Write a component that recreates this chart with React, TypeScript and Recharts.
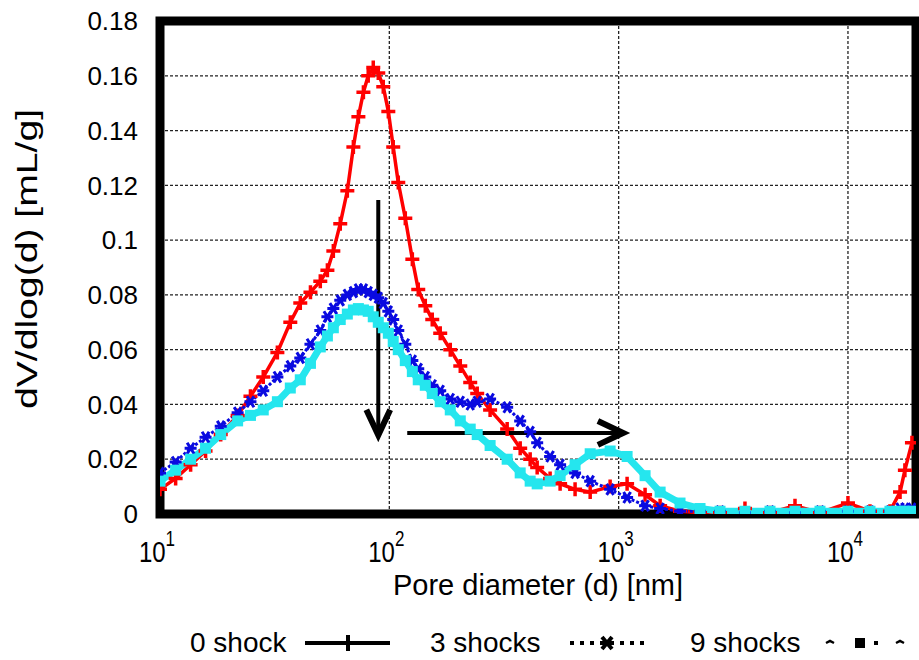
import {
  LineChart,
  Line,
  XAxis,
  YAxis,
  CartesianGrid,
  ReferenceArea,
  ReferenceLine,
  Legend,
} from "recharts";

// pore diameters in nm, shared by all three curves
const diameters = [
  10, 11.7, 13.6, 15.8, 18.4, 21.8, 24.8, 28.2, 32.5, 37.0, 40.9, 45.3, 50.0,
  53.7, 57.0, 61.1, 65.6, 69.7, 73.3, 77.1, 80.9, 85.1, 89.5, 94.1, 99.0, 104,
  109.4, 117.4, 126, 133.7, 143.5, 153.9, 166.7, 184.4, 203.9, 225.3, 241.7,
  275.1, 326.5, 372.1, 411.3, 441.3, 502.5, 555.6, 645.7, 751.4, 918, 1088.6,
  1303.9, 1516.5, 1852, 2264, 2767, 3555, 4571, 5875, 7551, 10000, 12474,
  15240, 16870, 17710, 19010,
];

const shock0 = [
  0.009, 0.013, 0.018, 0.023, 0.029, 0.036, 0.043, 0.05, 0.059, 0.07, 0.077,
  0.081, 0.085, 0.089, 0.096, 0.106, 0.118, 0.134, 0.145, 0.154, 0.16, 0.163,
  0.161, 0.156, 0.147, 0.134, 0.121, 0.108, 0.093, 0.082, 0.076, 0.071, 0.066,
  0.06, 0.054, 0.048, 0.044, 0.038, 0.031, 0.024, 0.02, 0.017, 0.013, 0.011,
  0.009, 0.008, 0.01, 0.011, 0.007, 0.003, 0.001, 0.0005, 0.0005, 0.002,
  0.0005, 0.003, 0.0005, 0.004, 0.001, 0.001, 0.008, 0.016, 0.026,
];

const shock3 = [
  0.015, 0.019, 0.024, 0.028, 0.032, 0.037, 0.041, 0.045, 0.05, 0.054, 0.057,
  0.062, 0.067, 0.072, 0.075, 0.078, 0.08, 0.081, 0.082, 0.082, 0.081, 0.08,
  0.079, 0.077, 0.074, 0.071, 0.067, 0.062, 0.056, 0.053, 0.05, 0.047, 0.045,
  0.042, 0.041, 0.04, 0.041, 0.042, 0.039, 0.034, 0.03, 0.026, 0.021, 0.018,
  0.015, 0.012, 0.009, 0.006, 0.003, 0.002, 0.001, 0.001, 0.001, 0.0005,
  0.001, 0.0005, 0.001, 0.001, 0.001, 0.001, 0.002, 0.002, 0.002,
];

const shock9 = [
  0.012, 0.016, 0.02, 0.024, 0.029, 0.034, 0.036, 0.038, 0.041, 0.046, 0.049,
  0.055, 0.061, 0.065, 0.068, 0.071, 0.073, 0.0745, 0.075, 0.0745, 0.074,
  0.072, 0.07, 0.068, 0.066, 0.063, 0.06, 0.056, 0.052, 0.049, 0.047, 0.044,
  0.041, 0.038, 0.034, 0.031, 0.029, 0.025, 0.02, 0.015, 0.012, 0.011, 0.012,
  0.014, 0.018, 0.022, 0.023, 0.021, 0.014, 0.008, 0.004, 0.002, 0.001, 0.001,
  0.001, 0.001, 0.001, 0.001, 0.001, 0.001, 0.001, 0.001, 0.001,
];

const xTicks = [10, 100, 1000, 10000];
const yTicks = [0, 0.02, 0.04, 0.06, 0.08, 0.1, 0.12, 0.14, 0.16, 0.18];

// arrows drawn on the plot (data coordinates)
const arrowDown = [
  { x: 89.5, y: 0.1146 },
  { x: 89.5, y: 0.0288 },
];
const arrowRight = [
  { x: 119.7, y: 0.0296 },
  { x: 1047, y: 0.0296 },
];

const data = diameters.map((d, i) => ({
  d,
  s0: shock0[i],
  s3: shock3[i],
  s9: shock9[i],
}));

const FONT = "'Liberation Sans', Arial, Helvetica, sans-serif";

const PlusDot = (props: any) => {
  const { cx, cy, index } = props;
  if (cx == null || cy == null) return <g key={`p${index}`} />;
  return (
    <path
      key={`p${index}`}
      d={`M${cx - 7},${cy}H${cx + 7}M${cx},${cy - 7}V${cy + 7}`}
      stroke="#ff0000"
      strokeWidth={3.5}
    />
  );
};

const StarDot = (props: any) => {
  const { cx, cy, index } = props;
  if (cx == null || cy == null) return <g key={`s${index}`} />;
  return (
    <path
      key={`s${index}`}
      d={`M${cx - 6},${cy}H${cx + 6}M${cx - 3.5},${cy - 5.5}L${cx + 3.5},${cy + 5.5}M${cx + 3.5},${cy - 5.5}L${cx - 3.5},${cy + 5.5}`}
      stroke="#0a0ae0"
      strokeWidth={3}
    />
  );
};

const SquareDot = (props: any) => {
  const { cx, cy, index } = props;
  if (cx == null || cy == null) return <g key={`q${index}`} />;
  return (
    <rect
      key={`q${index}`}
      x={cx - 5.5}
      y={cy - 5.5}
      width={11}
      height={11}
      fill="#25e6ee"
    />
  );
};

const Arrow = (props: any) => {
  const { x1, y1, x2, y2 } = props;
  const ang = Math.atan2(y2 - y1, x2 - x1);
  const len = 28;
  const spread = 0.44;
  const ax = x2 - len * Math.cos(ang - spread);
  const ay = y2 - len * Math.sin(ang - spread);
  const bx = x2 - len * Math.cos(ang + spread);
  const by = y2 - len * Math.sin(ang + spread);
  return (
    <g>
      <line x1={x1} y1={y1} x2={x2} y2={y2} stroke="#000" strokeWidth={4} />
      <polyline
        points={`${ax},${ay} ${x2},${y2} ${bx},${by}`}
        fill="none"
        stroke="#000"
        strokeWidth={6}
      />
    </g>
  );
};

const LogTick = (props: any) => {
  const { x, y, payload } = props;
  const exp = Math.round(Math.log10(payload.value));
  return (
    <g transform={`translate(${x - 3},${y + 48}) scale(1,1.25)`}>
      <text textAnchor="middle" fontSize={24} fontFamily={FONT} fill="#000">
        10
        <tspan dy={-13} fontSize={17}>
          {exp}
        </tspan>
      </text>
    </g>
  );
};

const YLabel = () => (
  <text
    transform="translate(27,259) rotate(-90) scale(1.35,1)"
    textAnchor="middle"
    dominantBaseline="central"
    fontSize={29}
    fontFamily={FONT}
    fill="#000"
  >
    dV/dlog(d) [mL/g]
  </text>
);

const LegendContent = () => (
  <svg width={919} height={50} style={{ display: "block" }}>
    <g fontFamily={FONT} fontSize={28} fill="#000">
      <text x={190} y={42}>0 shock</text>
      <text x={430} y={42}>3 shocks</text>
      <text x={690} y={42}>9 shocks</text>
    </g>
    <line x1={305} y1={33} x2={390} y2={33} stroke="#000" strokeWidth={4} />
    <path d="M340,33H356M348,25V41" stroke="#000" strokeWidth={4} />
    <line
      x1={570}
      y1={33}
      x2={645}
      y2={33}
      stroke="#000"
      strokeWidth={4}
      strokeDasharray="4 6"
    />
    <path
      d="M600,33H614M602,27L612,39M612,27L602,39"
      stroke="#000"
      strokeWidth={4}
    />
    <path
      d="M826,33l4,-2l4,2M896,33l4,-2l4,2"
      stroke="#000"
      strokeWidth={2.5}
      fill="none"
    />
    <rect x={855} y={28} width={10} height={10} fill="#000" />
    <rect x={874} y={31} width={4} height={4} fill="#000" />
  </svg>
);

export default function App() {
  return (
    <div
      style={{
        position: "absolute",
        left: 0,
        top: 0,
        width: 919,
        height: 660,
        background: "#fff",
      }}
    >
      <LineChart
        width={919}
        height={660}
        data={data}
        margin={{ top: 21, right: 3, left: 0, bottom: 0 }}
      >
        <CartesianGrid stroke="#222" strokeDasharray="3 2" strokeWidth={1.3} />
        <XAxis
          dataKey="d"
          type="number"
          scale="log"
          domain={[10, 19800]}
          allowDataOverflow
          ticks={xTicks}
          axisLine={false}
          tickLine={false}
          tickSize={0}
          tickMargin={0}
          height={96}
          tick={<LogTick />}
          label={{
            value: "Pore diameter (d) [nm]",
            position: "insideBottom",
            offset: 15,
            style: { fontSize: 29, fontFamily: FONT, fill: "#000" },
          }}
        />
        <YAxis
          type="number"
          domain={[0, 0.18]}
          ticks={yTicks}
          allowDataOverflow
          axisLine={false}
          tickLine={false}
          tickSize={0}
          tickMargin={22}
          width={160}
          tick={{ fontSize: 26, fontFamily: FONT, fill: "#000" }}
          label={<YLabel />}
        />
        <Line
          dataKey="s0"
          name="0 shock"
          stroke="#ff0000"
          strokeWidth={3.5}
          dot={PlusDot}
          activeDot={false}
          isAnimationActive={false}
        />
        <Line
          dataKey="s3"
          name="3 shocks"
          stroke="#0a0ae0"
          strokeWidth={3}
          strokeDasharray="3 2"
          dot={StarDot}
          activeDot={false}
          isAnimationActive={false}
        />
        <Line
          dataKey="s9"
          name="9 shocks"
          stroke="#25e6ee"
          strokeWidth={7}
          dot={SquareDot}
          activeDot={false}
          isAnimationActive={false}
        />
        <ReferenceArea
          x1={10}
          x2={19800}
          y1={0}
          y2={0.18}
          fill="none"
          fillOpacity={0}
          stroke="#000"
          strokeWidth={9}
        />
        <ReferenceLine segment={arrowDown} shape={Arrow} />
        <ReferenceLine segment={arrowRight} shape={Arrow} />
        <Legend verticalAlign="bottom" height={50} content={<LegendContent />} />
      </LineChart>
    </div>
  );
}
